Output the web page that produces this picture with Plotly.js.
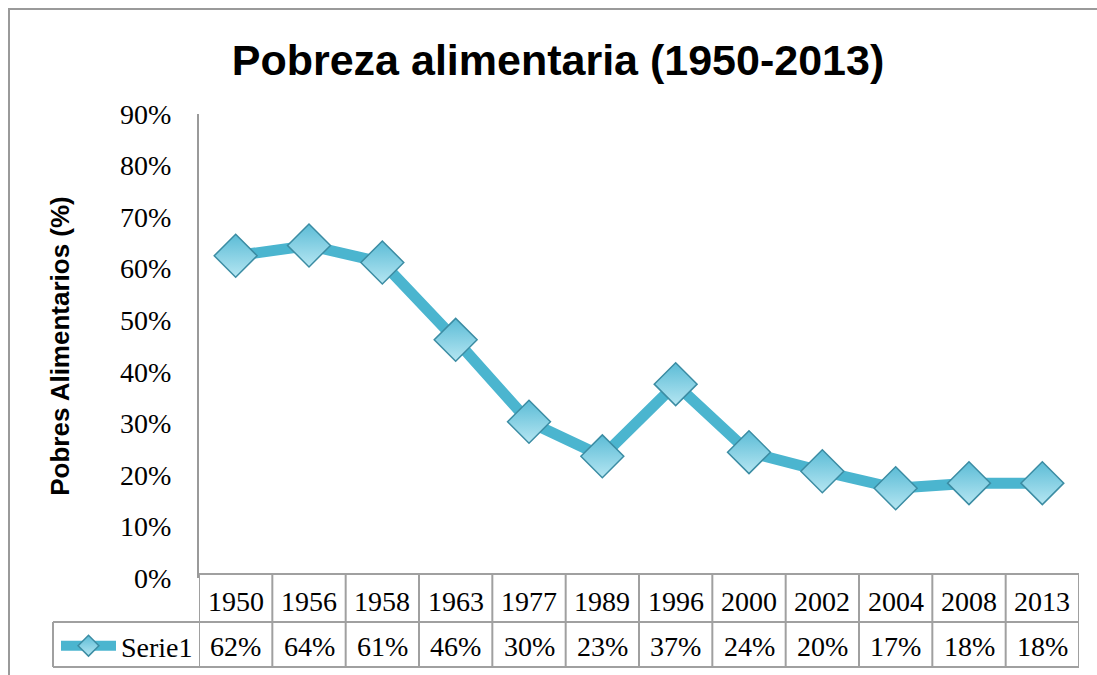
<!DOCTYPE html>
<html>
<head>
<meta charset="utf-8">
<script src="https://cdn.plot.ly/plotly-3.0.1.min.js"></script>
<style>html,body{margin:0;padding:0;background:#fff;}#chart{width:1097px;height:675px;}</style>
</head>
<body>
<div id="chart"></div>
<script>
// Data
const years = ['1950','1956','1958','1963','1977','1989','1996','2000','2002','2004','2008','2013'];
const serie1 = [0.625, 0.645, 0.612, 0.462, 0.303, 0.236, 0.376, 0.244, 0.207, 0.174, 0.184, 0.184];
const serie1Labels = ['62%','64%','61%','46%','30%','23%','37%','24%','20%','17%','18%','18%'];
const yTickVals = [0, 0.1, 0.2, 0.3, 0.4, 0.5, 0.6, 0.7, 0.8, 0.9];
const yTickText = ['0%','10%','20%','30%','40%','50%','60%','70%','80%','90%'];
const seriesName = 'Serie1';

// Layout geometry (pixels)
const W = 1097, H = 675;
const L = 199, R = 1079, T = 114, B = 578;
const pw = R - L, ph = B - T;
const px2x = p => (p - L) / pw;
const px2y = p => (B - p) / ph;

const gridCol = '#a0a0a0';
const serif = 'Liberation Serif, Times New Roman, serif';
const sans = 'Liberation Sans, Arial, sans-serif';

const rowTop = 574, rowMid = 622, rowBot = 667, legLeft = 53;

const shapes = [];
// outer chart border (top and left visible)
shapes.push({type:'line', xref:'paper', yref:'paper', x0:px2x(8), x1:px2x(1110), y0:px2y(9), y1:px2y(9), line:{color:'#9a9a9a', width:2}});
shapes.push({type:'line', xref:'paper', yref:'paper', x0:px2x(9), x1:px2x(9), y0:px2y(8), y1:px2y(690), line:{color:'#9a9a9a', width:2}});
// table horizontal lines
shapes.push({type:'line', xref:'paper', yref:'paper', x0:0, x1:1, y0:px2y(rowTop), y1:px2y(rowTop), line:{color:gridCol, width:2}});
shapes.push({type:'line', xref:'paper', yref:'paper', x0:px2x(legLeft), x1:1, y0:px2y(rowMid), y1:px2y(rowMid), line:{color:gridCol, width:2}});
shapes.push({type:'line', xref:'paper', yref:'paper', x0:px2x(legLeft), x1:1, y0:px2y(rowBot), y1:px2y(rowBot), line:{color:gridCol, width:2}});
shapes.push({type:'line', xref:'paper', yref:'paper', x0:px2x(legLeft), x1:px2x(legLeft), y0:px2y(rowMid), y1:px2y(rowBot), line:{color:gridCol, width:2}});
// table vertical lines at category boundaries
for (let i = 0; i <= years.length; i++) {
  shapes.push({type:'line', xref:'x', yref:'paper', x0:i-0.5, x1:i-0.5, y0:px2y(rowTop), y1:px2y(rowBot), line:{color:gridCol, width:2}});
}

const annotations = [];
years.forEach((yr, i) => {
  annotations.push({xref:'x', yref:'paper', x:i, y:px2y(601), text:yr, showarrow:false, xanchor:'center', yanchor:'middle', yshift:0, font:{family:serif, size:28, color:'#000'}});
  annotations.push({xref:'x', yref:'paper', x:i, y:px2y(647), text:serie1Labels[i], showarrow:false, xanchor:'center', yanchor:'middle', yshift:1, font:{family:serif, size:28, color:'#000'}});
});

const trace = {
  x: years,
  y: serie1,
  name: seriesName,
  type: 'scatter',
  mode: 'lines+markers',
  line: {color:'#4bb5cf', width:11},
  marker: {symbol:'diamond', size:33, color:'#5cbcd6', line:{color:'#3b8ca3', width:1.5}, gradient:{type:'vertical', color:'#b5e6f2'}},
  cliponaxis: false,
  showlegend: true
};

const layout = {
  width: W, height: H,
  margin: {l:L, r:W-R, t:T, b:H-B, pad:0, autoexpand:false},
  paper_bgcolor:'#fff', plot_bgcolor:'#fff',
  title: {text:'<b>Pobreza alimentaria (1950-2013)</b>', x:px2x(558), xref:'paper', xanchor:'center', y:1-60/H, yanchor:'middle', font:{family:sans, size:43, color:'#000'}},
  xaxis: {type:'category', range:[-0.5, years.length-0.5], showticklabels:false, showline:false, showgrid:false, zeroline:false, ticks:''},
  yaxis: {range:[0, 0.9], tickvals:yTickVals, ticktext:yTickText, showline:true, linecolor:'#9a9a9a', linewidth:2, showgrid:false, zeroline:false, ticks:'', ticklabelstandoff:20,
          tickfont:{family:serif, size:28, color:'#000'},
          title:{text:'<b>Pobres Alimentarios (%)</b>', font:{family:sans, size:26, color:'#000'}, standoff:43}},
  showlegend: true,
  legend: {x:px2x(56), y:px2y(rowMid-1), xanchor:'left', yanchor:'top', bgcolor:'rgba(0,0,0,0)', borderwidth:0, font:{family:serif, size:28, color:'#000'}, itemwidth:55, tracegroupgap:0},
  shapes: shapes,
  annotations: annotations
};

Plotly.newPlot('chart', [trace], layout, {displayModeBar:false, staticPlot:true});
</script>
</body>
</html>
